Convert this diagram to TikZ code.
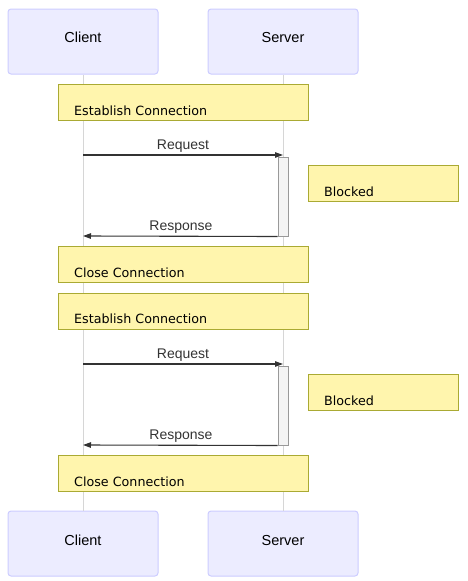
\documentclass[tikz,border=0pt]{standalone}
\usepackage{fontspec}
\setmainfont{Liberation Sans}
\newfontfamily\notefont{DejaVu Sans}
\usetikzlibrary{arrows.meta}
\definecolor{actfill}{HTML}{ECECFF}
\definecolor{actdraw}{HTML}{CCCCFF}
\definecolor{notefill}{HTML}{FFF5AD}
\definecolor{notedraw}{HTML}{AAAA33}
\definecolor{lifecol}{HTML}{D6D6D6}
\definecolor{msgcol}{HTML}{333333}
\definecolor{actvfill}{HTML}{F4F4F4}
\definecolor{actvdraw}{HTML}{999999}
\begin{document}
\begin{tikzpicture}[x=1pt,y=-1pt,
  actor/.style={draw=actdraw, fill=actfill, rounded corners=3pt, minimum width=150pt, minimum height=65pt, inner sep=0pt, line width=1pt},
  actorlabel/.style={font=\fontsize{14.5}{17}\selectfont, anchor=base, inner sep=0pt, text=black},
  widenote/.style={draw=notedraw, fill=notefill, line width=1pt, minimum width=250pt, minimum height=36pt, inner sep=0pt},
  smallnote/.style={draw=notedraw, fill=notefill, line width=1pt, minimum width=150pt, minimum height=36pt, inner sep=0pt},
  notelabel/.style={font=\notefont\fontsize{12.7}{15}\selectfont, anchor=base west, inner sep=0pt, text=black},
  msglabel/.style={font=\fontsize{14}{16}\selectfont, anchor=base, inner sep=0pt, text=msgcol},
  life/.style={draw=lifecol, line width=1pt},
  activ/.style={draw=actvdraw, fill=actvfill, line width=1pt, minimum width=10pt, minimum height=79pt, inner sep=0pt},
  msg/.style={draw=msgcol, line width=1.1pt, -{Triangle[length=8pt,width=5.5pt]}}
]
\useasboundingbox (0,0) rectangle (467,581);
% actors
\node[actor] (ct) at (83,41.5) {};
\node[actor] (st) at (283,41.5) {};
\node[actor] (cb) at (83,543.5) {};
\node[actor] (sb) at (283,543.5) {};
\node[actorlabel] (ctl) at (83,42.3) {Client};
\node[actorlabel] (stl) at (283,42.3) {Server};
\node[actorlabel] (cbl) at (83,545.7) {Client};
\node[actorlabel] (sbl) at (283,545.7) {Server};
% lifelines
\draw[life] (ct.south) -- (cb.north);
\draw[life] (st.south) -- (sb.north);
% notes
\node[widenote] (n1) at (183,102) {};
\node[notelabel] (n1l) at (74,115) {Establish Connection};
\node[smallnote] (b1) at (383,183) {};
\node[notelabel] (b1l) at (324,196) {Blocked};
\node[widenote] (n2) at (183,264) {};
\node[notelabel] (n2l) at (74,277) {Close Connection};
\node[widenote] (n3) at (183,311) {};
\node[notelabel] (n3l) at (74,323.5) {Establish Connection};
\node[smallnote] (b2) at (383,392) {};
\node[notelabel] (b2l) at (324,405) {Blocked};
\node[widenote] (n4) at (183,473) {};
\node[notelabel] (n4l) at (74,486.5) {Close Connection};
% activations
\node[activ] (a1) at (283,196.5) {};
\node[activ] (a2) at (283,405.5) {};
% message endpoints
\coordinate (c1) at (83,155);
\coordinate (s1) at (283,155);
\coordinate (c2) at (83,236);
\coordinate (c3) at (83,364);
\coordinate (s3) at (283,364);
\coordinate (c4) at (83,445);
% messages
\draw[msg] (c1) -- (s1);
\node[msglabel] (m1) at (183,149) {Request};
\draw[msg] (a1.south west) -- (c2);
\node[msglabel] (m2) at (181,230) {Response};
\draw[msg] (c3) -- (s3);
\node[msglabel] (m3) at (183,358) {Request};
\draw[msg] (a2.south west) -- (c4);
\node[msglabel] (m4) at (181,439.3) {Response};
\end{tikzpicture}
\end{document}
